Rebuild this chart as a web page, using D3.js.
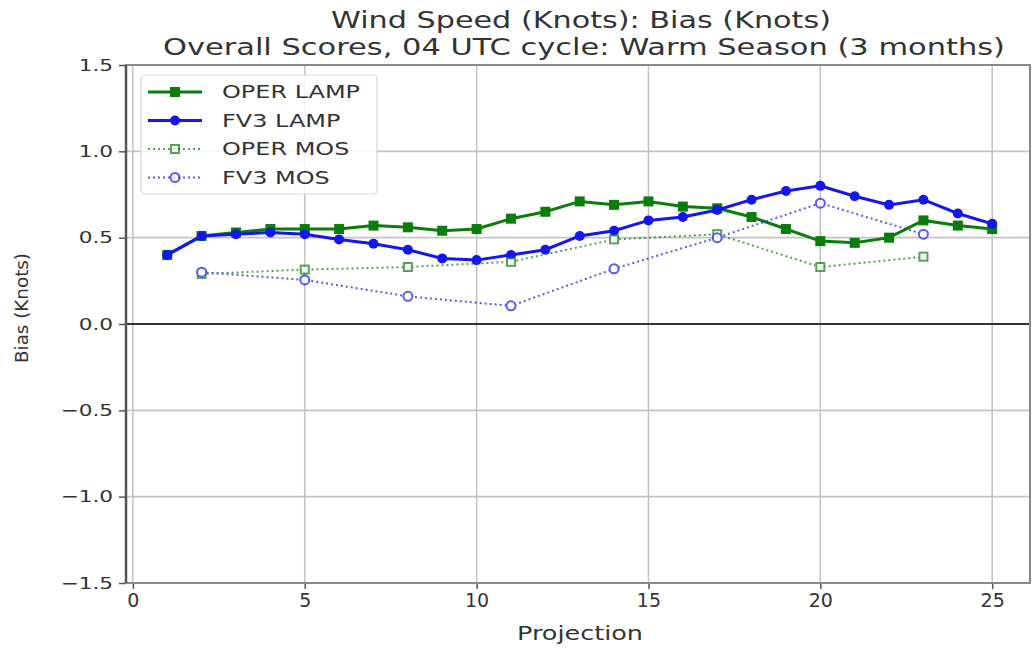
<!DOCTYPE html>
<html>
<head>
<meta charset="utf-8">
<script src="https://cdn.jsdelivr.net/npm/d3@7"></script>
<style>
  body { margin: 0; background: #fff; }
  svg { display: block; font-family: "DejaVu Sans", sans-serif; }
</style>
</head>
<body>
<svg width="1034" height="648"></svg>
<script>
// values
var projections = [1, 2, 3, 4, 5, 6, 7, 8, 9, 10, 11, 12, 13, 14, 15, 16, 17, 18, 19, 20, 21, 22, 23, 24, 25];
var operLamp = [0.40, 0.51, 0.53, 0.55, 0.55, 0.55, 0.57, 0.56, 0.54, 0.55, 0.61, 0.65, 0.71, 0.69, 0.71, 0.68, 0.67, 0.62, 0.55, 0.48, 0.47, 0.50, 0.60, 0.57, 0.55];
var fv3Lamp = [0.40, 0.51, 0.52, 0.53, 0.52, 0.49, 0.465, 0.43, 0.38, 0.37, 0.40, 0.43, 0.51, 0.54, 0.60, 0.62, 0.66, 0.72, 0.77, 0.80, 0.74, 0.69, 0.72, 0.64, 0.58];
var mosProjections = [2, 5, 8, 11, 14, 17, 20, 23];
var operMos = [0.29, 0.315, 0.33, 0.36, 0.49, 0.52, 0.33, 0.39];
var fv3Mos = [0.30, 0.255, 0.16, 0.105, 0.32, 0.50, 0.70, 0.52];
var xTicks = [0, 5, 10, 15, 20, 25];
var yTicks = [-1.5, -1.0, -0.5, 0.0, 0.5, 1.0, 1.5];
var seriesNames = ["OPER LAMP", "FV3 LAMP", "OPER MOS", "FV3 MOS"];

var svg = d3.select("svg"),
    plotL = 126, plotR = 1030, plotT = 65, plotB = 583;

var x = d3.scaleLinear().domain([-0.2, 26.1]).range([plotL, plotR]);
var y = d3.scaleLinear().domain([-1.5, 1.5]).range([plotB, plotT]);

// stretch text horizontally, the picture is wider than the font
function stretch(sel, k) {
    sel.each(function () {
        var w = this.getComputedTextLength();
        d3.select(this).attr("textLength", w * k).attr("lengthAdjust", "spacingAndGlyphs");
    });
}
function fitTo(sel, w) {
    sel.attr("textLength", w).attr("lengthAdjust", "spacingAndGlyphs");
}

// grid
svg.append("g").selectAll("line").data(xTicks).enter().append("line")
    .attr("x1", d => x(d)).attr("x2", d => x(d))
    .attr("y1", plotT).attr("y2", plotB)
    .attr("stroke", "#c4c4c4").attr("stroke-width", 1.6);
svg.append("g").selectAll("line").data(yTicks).enter().append("line")
    .attr("x1", plotL).attr("x2", plotR)
    .attr("y1", d => y(d)).attr("y2", d => y(d))
    .attr("stroke", "#c4c4c4").attr("stroke-width", 1.6);

// zero line
svg.append("line")
    .attr("x1", plotL).attr("x2", plotR)
    .attr("y1", y(0)).attr("y2", y(0))
    .attr("stroke", "#333").attr("stroke-width", 2);

// axes
var xAxis = svg.append("g")
    .attr("transform", "translate(0," + plotB + ")")
    .call(d3.axisBottom(x).tickValues(xTicks).tickSize(6).tickPadding(5).tickFormat(d3.format("d")));
var yAxis = svg.append("g")
    .attr("transform", "translate(" + plotL + ",0)")
    .call(d3.axisLeft(y).tickValues(yTicks).tickSize(7).tickPadding(6)
        .tickFormat(d => d3.format(".1f")(d).replace("-", "\u2212")));

[xAxis, yAxis].forEach(function (a) {
    a.select(".domain").remove();
    a.selectAll(".tick line").attr("stroke", "#555").attr("stroke-width", 1.5);
    a.selectAll(".tick text").attr("fill", "#333").style("font-family", "DejaVu Sans");
});
xAxis.selectAll(".tick text").style("font-size", "19px");
yAxis.selectAll(".tick text").style("font-size", "16px").call(stretch, 1.35);

// frame
svg.append("rect")
    .attr("x", plotL).attr("y", plotT)
    .attr("width", plotR - plotL).attr("height", plotB - plotT)
    .attr("fill", "none").attr("stroke", "#8a8a8a").attr("stroke-width", 2);
svg.append("line")
    .attr("x1", plotL).attr("x2", plotL).attr("y1", plotT).attr("y2", plotB)
    .attr("stroke", "#555").attr("stroke-width", 2.5);

// series
var green = "#0a7d0a", blue = "#1515f0";

function lineOf(xs, ys) {
    return d3.line().x((d, i) => x(xs[i])).y(d => y(d))(ys);
}

svg.append("path").attr("d", lineOf(projections, operLamp))
    .attr("fill", "none").attr("stroke", green).attr("stroke-width", 3);
svg.append("g").selectAll("rect").data(operLamp).enter().append("rect")
    .attr("x", (d, i) => x(projections[i]) - 5).attr("y", d => y(d) - 5)
    .attr("width", 10).attr("height", 10).attr("fill", green);

svg.append("path").attr("d", lineOf(projections, fv3Lamp))
    .attr("fill", "none").attr("stroke", blue).attr("stroke-width", 3);
svg.append("g").selectAll("circle").data(fv3Lamp).enter().append("circle")
    .attr("cx", (d, i) => x(projections[i])).attr("cy", d => y(d))
    .attr("r", 5).attr("fill", blue);

var mosG = svg.append("g").attr("opacity", 0.7);
mosG.append("path").attr("d", lineOf(mosProjections, operMos))
    .attr("fill", "none").attr("stroke", green).attr("stroke-width", 2)
    .attr("stroke-dasharray", "2,3");
mosG.selectAll("rect").data(operMos).enter().append("rect")
    .attr("x", (d, i) => x(mosProjections[i]) - 4).attr("y", d => y(d) - 4)
    .attr("width", 8).attr("height", 8).attr("fill", "#fff")
    .attr("stroke", green).attr("stroke-width", 2);

mosG.append("path").attr("d", lineOf(mosProjections, fv3Mos))
    .attr("fill", "none").attr("stroke", blue).attr("stroke-width", 2)
    .attr("stroke-dasharray", "2,3");
mosG.selectAll("circle").data(fv3Mos).enter().append("circle")
    .attr("cx", (d, i) => x(mosProjections[i])).attr("cy", d => y(d))
    .attr("r", 4.5).attr("fill", "#fff")
    .attr("stroke", blue).attr("stroke-width", 2);

// legend
var legend = svg.append("g");
legend.append("rect")
    .attr("x", 141).attr("y", 75).attr("width", 236).attr("height", 119)
    .attr("rx", 4).attr("fill", "#fff").attr("fill-opacity", 0.85)
    .attr("stroke", "#d8d8d8").attr("stroke-width", 1.2);

var rows = legend.selectAll("g.row").data(seriesNames).enter().append("g")
    .attr("class", "row")
    .attr("transform", (d, i) => "translate(0," + (92 + i * 28.5) + ")");
rows.append("line")
    .attr("x1", 148).attr("x2", 202)
    .attr("stroke", (d, i) => i % 2 ? blue : green)
    .attr("stroke-width", (d, i) => i < 2 ? 3 : 2)
    .attr("stroke-dasharray", (d, i) => i < 2 ? null : "2,3")
    .attr("opacity", (d, i) => i < 2 ? 1 : 0.7);
rows.each(function (d, i) {
    var r = d3.select(this);
    if (i === 0) r.append("rect").attr("x", 170).attr("y", -5).attr("width", 10).attr("height", 10).attr("fill", green);
    if (i === 1) r.append("circle").attr("cx", 175).attr("r", 5).attr("fill", blue);
    if (i === 2) r.append("rect").attr("x", 171).attr("y", -4).attr("width", 8).attr("height", 8)
        .attr("fill", "#fff").attr("stroke", green).attr("stroke-width", 2).attr("opacity", 0.7);
    if (i === 3) r.append("circle").attr("cx", 175).attr("r", 4.5)
        .attr("fill", "#fff").attr("stroke", blue).attr("stroke-width", 2).attr("opacity", 0.7);
});
rows.append("text")
    .attr("x", 222).attr("dy", "0.36em")
    .attr("fill", "#333").style("font-size", "18px")
    .text(d => d)
    .call(stretch, 1.33);

// titles
svg.append("text").attr("x", 581).attr("y", 28).attr("text-anchor", "middle")
    .attr("fill", "#333").style("font-size", "23px")
    .text("Wind Speed (Knots): Bias (Knots)")
    .call(fitTo, 500);
svg.append("text").attr("x", 584).attr("y", 55).attr("text-anchor", "middle")
    .attr("fill", "#333").style("font-size", "23px")
    .text("Overall Scores, 04 UTC cycle: Warm Season (3 months)")
    .call(fitTo, 842);

svg.append("text").attr("x", 580).attr("y", 640).attr("text-anchor", "middle")
    .attr("fill", "#333").style("font-size", "20px")
    .text("Projection")
    .call(fitTo, 126);
svg.append("text")
    .attr("transform", "translate(28,308) rotate(-90)")
    .attr("text-anchor", "middle")
    .attr("fill", "#333").style("font-size", "17px")
    .text("Bias (Knots)")
    .call(fitTo, 110);
</script>
</body>
</html>
